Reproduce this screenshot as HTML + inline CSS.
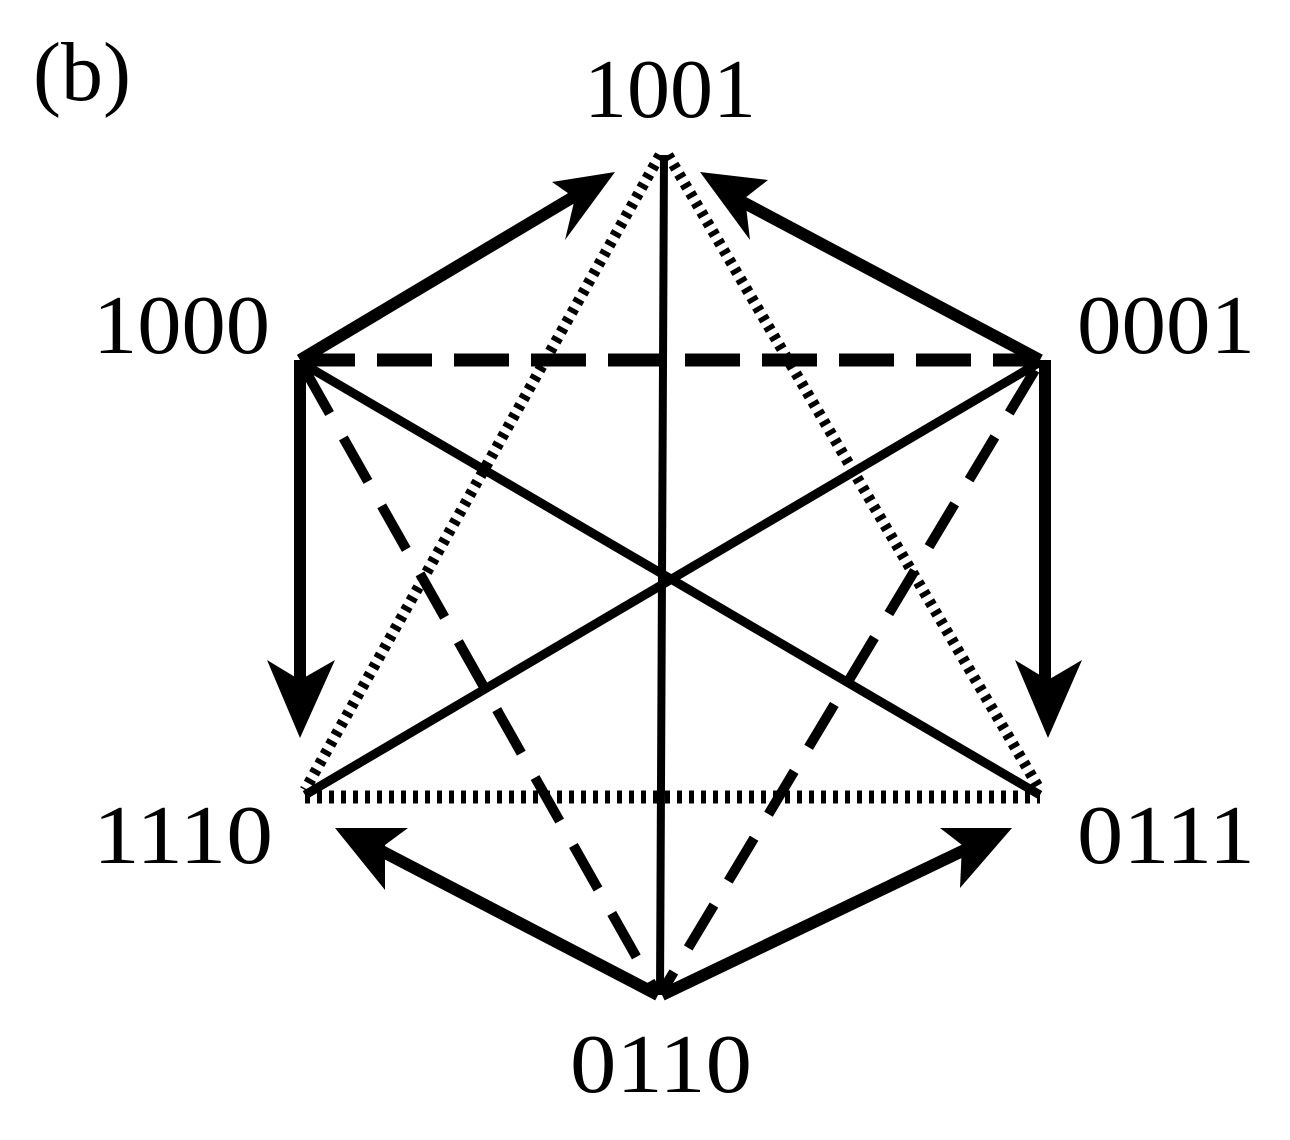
<!DOCTYPE html>
<html><head><meta charset="utf-8"><style>
html,body{margin:0;padding:0;background:#fff;}
svg{display:block}
text{font-family:"Liberation Serif",serif;font-size:84px;fill:#000;}
</style></head><body>
<svg width="1290" height="1140" viewBox="0 0 1290 1140">
<g stroke="#000" fill="none">
<line x1="664" y1="155" x2="660" y2="995" stroke-width="8"/>
<line x1="300" y1="362" x2="1040" y2="795" stroke-width="9"/>
<line x1="1040" y1="362" x2="305" y2="795" stroke-width="9"/>
<line x1="300" y1="360" x2="1040" y2="360" stroke-width="13" stroke-dasharray="55,22"/>
<line x1="305" y1="797" x2="1040" y2="797" stroke-width="13" stroke-dasharray="5,7"/>
<line x1="660" y1="155" x2="305" y2="790" stroke-width="11" stroke-dasharray="5,6"/>
<line x1="668" y1="155" x2="1040" y2="790" stroke-width="11" stroke-dasharray="5,6"/>
<line x1="305" y1="370" x2="655" y2="990" stroke-width="10" stroke-dasharray="50,28"/>
<line x1="1035" y1="370" x2="663" y2="990" stroke-width="10" stroke-dasharray="50,28"/>
<line x1="300" y1="360" x2="585" y2="190" stroke-width="12"/>
<line x1="1040" y1="360" x2="720" y2="190" stroke-width="12"/>
<line x1="300" y1="360" x2="300" y2="700" stroke-width="12"/>
<line x1="1045" y1="360" x2="1045" y2="700" stroke-width="12"/>
<line x1="658" y1="995" x2="370" y2="845" stroke-width="12"/>
<line x1="662" y1="995" x2="975" y2="845" stroke-width="12"/>
</g>
<g fill="#000">
<polygon points="615,172 552,182 575,198 565,240"/>
<polygon points="700,172 768,180 745,198 750,240"/>
<polygon points="300,738 267,660 300,680 335,660"/>
<polygon points="1048,738 1015,660 1048,680 1082,660"/>
<polygon points="335,828 408,828 385,845 385,890"/>
<polygon points="1012,828 940,828 962,845 960,888"/>
</g>
<text x="33" y="100">(b)</text>
<text x="584" y="117" textLength="172" lengthAdjust="spacingAndGlyphs">1001</text>
<text x="93" y="353" textLength="177" lengthAdjust="spacingAndGlyphs">1000</text>
<text x="1077" y="353" textLength="178" lengthAdjust="spacingAndGlyphs">0001</text>
<text x="93" y="863" textLength="180" lengthAdjust="spacingAndGlyphs">1110</text>
<text x="1077" y="863" textLength="178" lengthAdjust="spacingAndGlyphs">0111</text>
<text x="570" y="1092" textLength="182" lengthAdjust="spacingAndGlyphs">0110</text>
</svg>
</body></html>
